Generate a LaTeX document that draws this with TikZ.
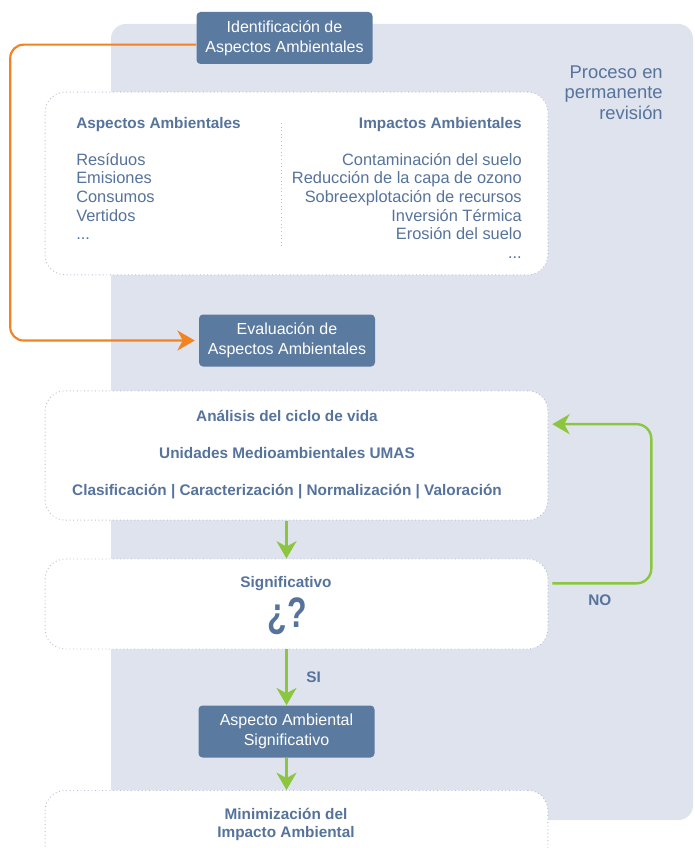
\documentclass[tikz,border=0pt]{standalone}
\usepackage{fontspec}
\setmainfont{Liberation Sans}
\newfontfamily\estrecha[FakeStretch=0.75]{Liberation Sans}
\usetikzlibrary{arrows.meta}

\definecolor{fondo}{HTML}{DFE3EE}
\definecolor{cajaazul}{HTML}{5B7A9F}
\definecolor{textoazul}{HTML}{56739C}
\definecolor{verde}{HTML}{8CC63F}
\definecolor{naranja}{HTML}{F58220}
\definecolor{punteado}{HTML}{B5C0D5}

\tikzset{
  caja/.style={fill=cajaazul, rounded corners=3pt, text=white, align=center,
    minimum width=132pt, minimum height=39pt, inner sep=0pt,
    font=\fontsize{12}{15}\selectfont},
  marco/.style={draw=punteado, dotted, line width=0.7pt, fill=white,
    rounded corners=15pt, minimum width=377pt, inner sep=0pt},
  titulo/.style={text=textoazul, align=center, inner sep=0pt,
    font=\bfseries\fontsize{11.5}{13.5}\selectfont},
  lista/.style={text=textoazul, inner sep=0pt, font=\fontsize{12.3}{13.9}\selectfont},
  flecha/.style={draw=verde, line width=1.8pt, -{Stealth[length=13pt,width=15pt,inset=4pt]}}
}

\begin{document}
\begin{tikzpicture}[x=0.75pt,y=-0.75pt]
    \useasboundingbox (0,0) rectangle (694,848);

    % Fondo
    \fill[fondo, rounded corners=11pt] (111,24) rectangle (693,820);

    % Cajas
    \node[caja] (ident) at (284.5,38) {Identificación de\\Aspectos Ambientales};
    \node[caja] (evalua) at (287,340.5) {Evaluación de\\Aspectos Ambientales};
    \node[caja] (aspecto) at (286.5,731.5) {Aspecto Ambiental\\Significativo};

    % Marcos
    \node[marco, minimum height=137pt] (marco1) at (296.5,183.5) {};
    \node[marco, minimum height=97pt] (marco2) at (296.5,455.5) {};
    \node[marco, minimum height=67.5pt] (marco3) at (296.5,604) {};
    \node[marco, minimum height=75pt, anchor=north] (marco4) at (296.5,790) {};

    % Textos
    \node[text=textoazul, anchor=north east, align=right, inner sep=0pt,
      font=\fontsize{13.8}{15.4}\selectfont] (revision) at (663,65.5)
      {Proceso en\\permanente\\revisión};
    \node[lista, anchor=north west, align=left] (aspectos) at (76,117)
      {{\bfseries\fontsize{11.5}{13.9}\selectfont Aspectos Ambientales}\\[13.9pt]Resíduos\\Emisiones\\Consumos\\Vertidos\\...};
    \node[lista, anchor=north east, align=right] (impactos) at (522,117)
      {{\bfseries\fontsize{11.5}{13.9}\selectfont Impactos Ambientales}\\[13.9pt]Contaminación del suelo\\Reducción de la capa de ozono\\
       Sobreexplotación de recursos\\Inversión Térmica\\Erosión del suelo\\...};
    \draw[punteado, dotted, line width=0.7pt] (281,123) -- (281,246);

    \node[titulo, font=\bfseries\fontsize{11.5}{27.75}\selectfont] (ciclo) at (287,455)
      {Análisis del ciclo de vida\\Unidades Medioambientales UMAS\\
       Clasificación | Caracterización | Normalización | Valoración};
    \node[titulo] (signif) at (286,584) {Significativo};
    \node[text=textoazul, inner sep=0pt, font=\estrecha\bfseries\fontsize{32}{32}\selectfont] (preg) at (287,616.5) {¿?};
    \node[titulo] (minimiza) at (286,824) {Minimización del\\Impacto Ambiental};

    % Conectores
    \draw[naranja, line width=1.6pt, rounded corners=10pt, shorten >=3pt,
      -{Stealth[length=13pt,width=15pt,inset=4pt]}]
      ([yshift=-5pt]ident.west) -- ++(-186,0) |- (evalua.west);
    \draw[flecha] (marco2.south -| aspecto) -- (marco3.north -| aspecto);
    \draw[flecha] (marco3.south -| aspecto) -- (aspecto.north)
      node[titulo, midway, right=14pt] (si) {SI};
    \draw[flecha] (aspecto.south) -- (marco4.north -| aspecto);
    \draw[flecha, rounded corners=11pt, shorten <=3pt, shorten >=3pt]
      ([yshift=15.5pt]marco3.east) -- ++(103,0) node[titulo, midway, below=8pt] (no) {NO}
      |- ([yshift=23.5pt]marco2.east);
\end{tikzpicture}
\end{document}
